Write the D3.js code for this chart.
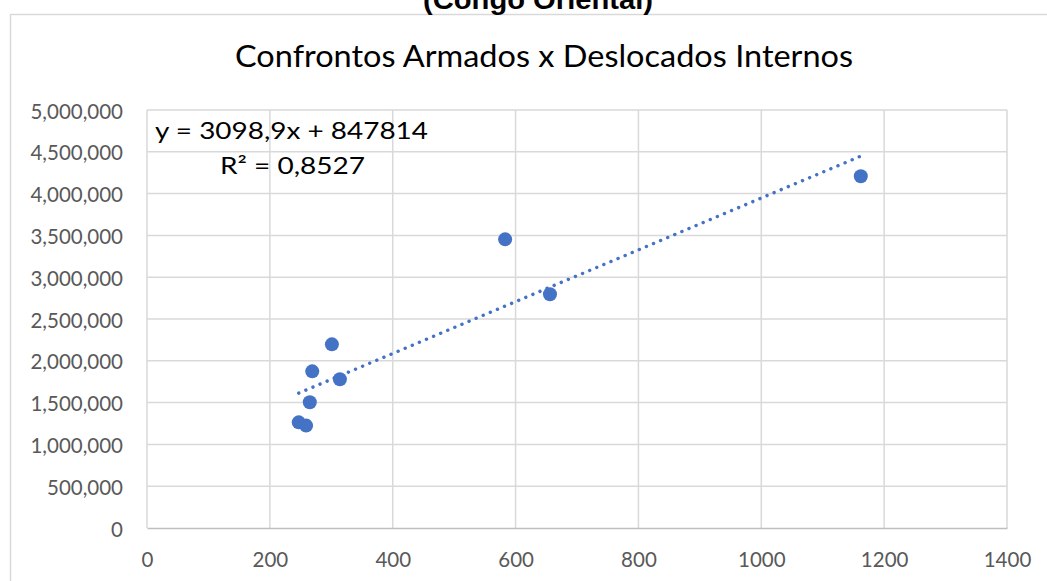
<!DOCTYPE html>
<html>
<head>
<meta charset="utf-8">
<script src="https://cdn.jsdelivr.net/npm/d3@7"></script>
<style>
  html, body { margin: 0; padding: 0; background: #fff; overflow: hidden; }
  svg { display: block; }
</style>
</head>
<body>
<svg id="chart" width="1047" height="581"></svg>
<script>
// ---- data ----
const superTitle = "(Congo Oriental)";
const chartTitle = "Confrontos Armados x Deslocados Internos";
const confrontos = [1162, 583, 656, 301, 269, 314, 265, 247, 259];
const deslocados = [4207000, 3453000, 2796000, 2197000, 1874000, 1779000, 1504000, 1264000, 1225000];
const xTicks = [0, 200, 400, 600, 800, 1000, 1200, 1400];
const yTicks = [0, 500000, 1000000, 1500000, 2000000, 2500000, 3000000, 3500000, 4000000, 4500000, 5000000];
const trendSlope = 3098.9;
const trendIntercept = 847814;
const eqLabel = "y = 3098,9x + 847814";
const r2Label = "R² = 0,8527";

// ---- layout ----
const svg = d3.select("#chart");
const color = "#4472C4";
const x = d3.scaleLinear().domain([0, 1400]).range([147, 1007]);
const y = d3.scaleLinear().domain([0, 5000000]).range([528, 110]);

// outer chart border
svg.append("rect").attr("x", 10.5).attr("y", 14.5).attr("width", 1045).attr("height", 580)
  .attr("fill", "#fff").attr("stroke", "#d9d9d9").attr("stroke-width", 1.5);

// super title (cut off at top, as in the reference)
svg.append("text").attr("x", 538).attr("y", 9).attr("text-anchor", "middle")
  .attr("font-family", "Liberation Sans, Arial, sans-serif").attr("font-weight", "bold")
  .attr("font-size", 28).attr("fill", "#000")
  .attr("textLength", 230).attr("lengthAdjust", "spacingAndGlyphs")
  .text(superTitle);

// chart title
svg.append("text").attr("x", 544).attr("y", 67).attr("text-anchor", "middle")
  .attr("font-family", "Lato, sans-serif").attr("font-size", 30).attr("fill", "#000")
  .attr("textLength", 618).attr("lengthAdjust", "spacingAndGlyphs")
  .text(chartTitle);

// gridlines
const grid = svg.append("g");
grid.selectAll("line.h").data(yTicks.filter(d => d > 0)).join("line")
  .attr("x1", x(0)).attr("x2", x(1400)).attr("y1", d => y(d)).attr("y2", d => y(d))
  .attr("stroke", "#d9d9d9").attr("stroke-width", 1.5);
grid.selectAll("line.v").data(xTicks).join("line")
  .attr("x1", d => x(d)).attr("x2", d => x(d)).attr("y1", y(0)).attr("y2", y(5000000))
  .attr("stroke", "#d9d9d9").attr("stroke-width", 1.5);

// axes
const xAxis = svg.append("g").attr("transform", `translate(0,${y(0)})`)
  .call(d3.axisBottom(x).tickValues(xTicks).tickSize(0).tickPadding(24).tickFormat(d3.format("d")));
xAxis.select(".domain").attr("stroke", "#bfbfbf").attr("stroke-width", 1.5);
xAxis.selectAll("text").attr("font-family", "Lato, sans-serif").attr("font-size", 20.5).attr("fill", "#595959")
  .attr("dy", null).attr("dominant-baseline", "central").attr("y", 31);

const yAxis = svg.append("g").attr("transform", `translate(${x(0)},0)`)
  .call(d3.axisLeft(y).tickValues(yTicks).tickSize(0).tickPadding(24).tickFormat(d3.format(",")));
yAxis.select(".domain").remove();
yAxis.selectAll("text").attr("font-family", "Lato, sans-serif").attr("font-size", 20.5).attr("fill", "#595959")
  .attr("dy", null).attr("dominant-baseline", "central").attr("x", -24);

// trend line
const xMin = d3.min(confrontos), xMax = d3.max(confrontos);
svg.append("line")
  .attr("x1", x(xMin)).attr("y1", y(trendSlope * xMin + trendIntercept))
  .attr("x2", x(xMax)).attr("y2", y(trendSlope * xMax + trendIntercept))
  .attr("stroke", color).attr("stroke-width", 3.4).attr("stroke-linecap", "round")
  .attr("stroke-dasharray", "0.1,7.6");

// points
svg.append("g").selectAll("circle").data(confrontos.map((c, i) => [c, deslocados[i]])).join("circle")
  .attr("cx", d => x(d[0])).attr("cy", d => y(d[1])).attr("r", 7).attr("fill", color);

// equation labels
svg.append("text").attr("x", 291.5).attr("y", 139).attr("text-anchor", "middle")
  .attr("font-family", "Lato, sans-serif").attr("font-size", 23.5).attr("fill", "#000")
  .attr("textLength", 273).attr("lengthAdjust", "spacingAndGlyphs").text(eqLabel);
svg.append("text").attr("x", 292.5).attr("y", 174).attr("text-anchor", "middle")
  .attr("font-family", "Lato, sans-serif").attr("font-size", 23.5).attr("fill", "#000")
  .attr("textLength", 145).attr("lengthAdjust", "spacingAndGlyphs").text(r2Label);
</script>
</body>
</html>
